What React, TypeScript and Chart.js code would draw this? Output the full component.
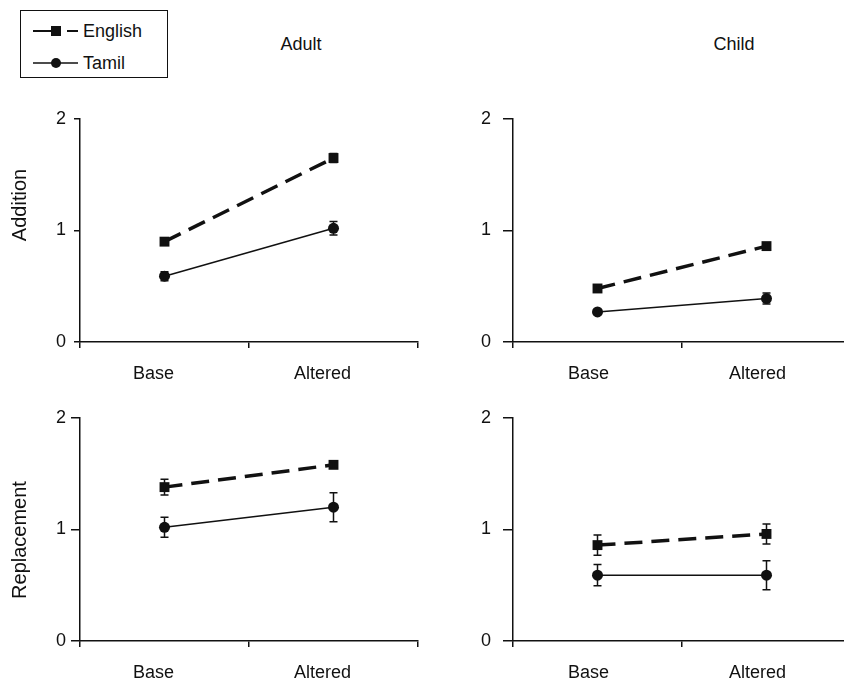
import React, { useEffect, useRef } from 'react';
import { Chart, registerables } from 'chart.js';

Chart.register(...registerables);

// ---- data ----
const conditions = ['Base', 'Altered'];
const seriesNames = ['English', 'Tamil'];
const columnTitles = ['Adult', 'Child'];
const rowTitles = ['Addition', 'Replacement'];
const yTickValues = [0, 1, 2];

const adultAdditionEnglish = [0.9, 1.65];
const adultAdditionEnglishErr = [0.03, 0.04];
const adultAdditionTamil = [0.59, 1.02];
const adultAdditionTamilErr = [0.04, 0.06];

const childAdditionEnglish = [0.48, 0.86];
const childAdditionEnglishErr = [0.03, 0.03];
const childAdditionTamil = [0.27, 0.39];
const childAdditionTamilErr = [0.02, 0.05];

const adultReplacementEnglish = [1.38, 1.58];
const adultReplacementEnglishErr = [0.07, 0.03];
const adultReplacementTamil = [1.02, 1.2];
const adultReplacementTamilErr = [0.09, 0.13];

const childReplacementEnglish = [0.86, 0.96];
const childReplacementEnglishErr = [0.09, 0.09];
const childReplacementTamil = [0.59, 0.59];
const childReplacementTamilErr = [0.095, 0.13];

const FONT = "'Liberation Sans', Arial, Helvetica, sans-serif";
const INK = '#111';

const errorBarPlugin = {
  id: 'errorBars',
  afterDatasetsDraw(chart: any, _args: any, opts: any) {
    const ctx = chart.ctx;
    const yScale = chart.scales.y;
    const errs: number[][] = opts.errors || [];
    chart.data.datasets.forEach((ds: any, i: number) => {
      const meta = chart.getDatasetMeta(i);
      const e = errs[i] || [];
      meta.data.forEach((pt: any, j: number) => {
        const v = ds.data[j] as number;
        const err = e[j] || 0;
        const yt = yScale.getPixelForValue(v + err);
        const yb = yScale.getPixelForValue(v - err);
        ctx.save();
        ctx.strokeStyle = INK;
        ctx.lineWidth = 1.5;
        ctx.beginPath();
        ctx.moveTo(pt.x, yt);
        ctx.lineTo(pt.x, yb);
        ctx.moveTo(pt.x - 4, yt);
        ctx.lineTo(pt.x + 4, yt);
        ctx.moveTo(pt.x - 4, yb);
        ctx.lineTo(pt.x + 4, yb);
        ctx.stroke();
        ctx.restore();
      });
    });
  },
};

type PanelProps = {
  english: number[];
  englishErr: number[];
  tamil: number[];
  tamilErr: number[];
  areaLeft: number;
  areaTop: number;
  yTickLength: number;
  yTickPadding: number;
  xLabelOffset: number;
};

const AREA_W = 338;
const AREA_H = 223;
const Y_AXIS_W = 60;
const X_AXIS_H = 45;
const PAD_TOP = 30;
const PAD_RIGHT = 12;

function Panel(p: PanelProps) {
  const ref = useRef<HTMLCanvasElement | null>(null);
  useEffect(() => {
    if (!ref.current) return;
    const chart = new Chart(ref.current, {
      type: 'line',
      data: {
        labels: conditions,
        datasets: [
          {
            label: seriesNames[0],
            data: p.english,
            borderColor: INK,
            backgroundColor: INK,
            borderWidth: 3.5,
            borderDash: [18, 9],
            pointStyle: 'rect',
            pointRadius: 7,
            pointBorderWidth: 0,
            pointBackgroundColor: INK,
            tension: 0,
          },
          {
            label: seriesNames[1],
            data: p.tamil,
            borderColor: INK,
            backgroundColor: INK,
            borderWidth: 1.5,
            pointStyle: 'circle',
            pointRadius: 5.5,
            pointBorderWidth: 0,
            pointBackgroundColor: INK,
            tension: 0,
          },
        ],
      },
      options: {
        animation: false,
        responsive: false,
        layout: { padding: { top: PAD_TOP, right: PAD_RIGHT, left: 0, bottom: 0 } },
        plugins: {
          legend: { display: false },
          tooltip: { enabled: false },
          title: { display: false },
          errorBars: { errors: [p.englishErr, p.tamilErr] },
        } as any,
        scales: {
          x: {
            type: 'category',
            offset: true,
            grid: {
              offset: true,
              drawOnChartArea: false,
              drawTicks: true,
              tickLength: 6,
              color: INK,
              lineWidth: 1.5,
            },
            border: { display: true, color: INK, width: 1.5 },
            ticks: {
              color: INK,
              font: { family: FONT, size: 18 },
              padding: 15,
              labelOffset: p.xLabelOffset,
              maxRotation: 0,
              autoSkip: false,
            },
            afterFit(scale: any) {
              scale.height = X_AXIS_H;
            },
          },
          y: {
            type: 'linear',
            min: 0,
            max: 2,
            afterBuildTicks(scale: any) {
              scale.ticks = yTickValues.map((v) => ({ value: v }));
            },
            grid: {
              drawOnChartArea: false,
              drawTicks: true,
              tickLength: p.yTickLength,
              color: INK,
              lineWidth: 1.5,
            },
            border: { display: true, color: INK, width: 1.5 },
            ticks: {
              color: INK,
              font: { family: FONT, size: 18 },
              padding: p.yTickPadding,
              callback: (v: any) => String(v),
            },
            afterFit(scale: any) {
              scale.width = Y_AXIS_W;
            },
          },
        },
      } as any,
      plugins: [errorBarPlugin as any],
    });
    return () => chart.destroy();
  }, []);
  const w = AREA_W + Y_AXIS_W + PAD_RIGHT;
  const h = AREA_H + PAD_TOP + X_AXIS_H;
  return (
    <canvas
      ref={ref}
      width={w}
      height={h}
      style={{
        position: 'absolute',
        left: p.areaLeft - Y_AXIS_W,
        top: p.areaTop - PAD_TOP,
        width: w,
        height: h,
      }}
    />
  );
}

const textStyle: React.CSSProperties = {
  position: 'absolute',
  fontFamily: FONT,
  fontSize: 18,
  lineHeight: '18px',
  color: INK,
  whiteSpace: 'nowrap',
};

export default function App() {
  return (
    <div
      style={{
        position: 'fixed',
        left: 0,
        top: 0,
        width: 844,
        height: 678,
        overflow: 'hidden',
        background: '#fff',
      }}
    >
      <Panel
        english={adultAdditionEnglish}
        englishErr={adultAdditionEnglishErr}
        tamil={adultAdditionTamil}
        tamilErr={adultAdditionTamilErr}
        areaLeft={80}
        areaTop={119}
        yTickLength={6}
        yTickPadding={8}
        xLabelOffset={-11}
      />
      <Panel
        english={childAdditionEnglish}
        englishErr={childAdditionEnglishErr}
        tamil={childAdditionTamil}
        tamilErr={childAdditionTamilErr}
        areaLeft={513}
        areaTop={119}
        yTickLength={10}
        yTickPadding={12}
        xLabelOffset={-9}
      />
      <Panel
        english={adultReplacementEnglish}
        englishErr={adultReplacementEnglishErr}
        tamil={adultReplacementTamil}
        tamilErr={adultReplacementTamilErr}
        areaLeft={80}
        areaTop={418}
        yTickLength={9}
        yTickPadding={5}
        xLabelOffset={-11}
      />
      <Panel
        english={childReplacementEnglish}
        englishErr={childReplacementEnglishErr}
        tamil={childReplacementTamil}
        tamilErr={childReplacementTamilErr}
        areaLeft={513}
        areaTop={418}
        yTickLength={10}
        yTickPadding={12}
        xLabelOffset={-9}
      />

      {/* column titles */}
      <div style={{ ...textStyle, left: 301, top: 35, transform: 'translateX(-50%)' }}>{columnTitles[0]}</div>
      <div style={{ ...textStyle, left: 734, top: 35, transform: 'translateX(-50%)' }}>{columnTitles[1]}</div>

      {/* row titles */}
      <div
        style={{
          ...textStyle,
          fontSize: 20,
          lineHeight: '20px',
          left: 19,
          top: 205,
          transform: 'translate(-50%, -50%) rotate(-90deg)',
        }}
      >
        {rowTitles[0]}
      </div>
      <div
        style={{
          ...textStyle,
          fontSize: 20,
          lineHeight: '20px',
          left: 19,
          top: 540,
          transform: 'translate(-50%, -50%) rotate(-90deg)',
        }}
      >
        {rowTitles[1]}
      </div>

      {/* legend */}
      <div
        style={{
          position: 'absolute',
          left: 20,
          top: 10,
          width: 148,
          height: 68,
          border: `1.5px solid ${INK}`,
          boxSizing: 'border-box',
        }}
      >
        <svg width={60} height={68} style={{ position: 'absolute', left: 0, top: 0 }}>
          <line x1={12} y1={20} x2={30} y2={20} stroke={INK} strokeWidth={2} />
          <rect x={30} y={15} width={10} height={10} fill={INK} />
          <line x1={46} y1={20} x2={57} y2={20} stroke={INK} strokeWidth={2} />
          <line x1={12} y1={52} x2={57} y2={52} stroke={INK} strokeWidth={1.5} />
          <circle cx={35} cy={52} r={5} fill={INK} />
        </svg>
        <div style={{ ...textStyle, left: 62, top: 11 }}>{seriesNames[0]}</div>
        <div style={{ ...textStyle, left: 62, top: 43 }}>{seriesNames[1]}</div>
      </div>
    </div>
  );
}
